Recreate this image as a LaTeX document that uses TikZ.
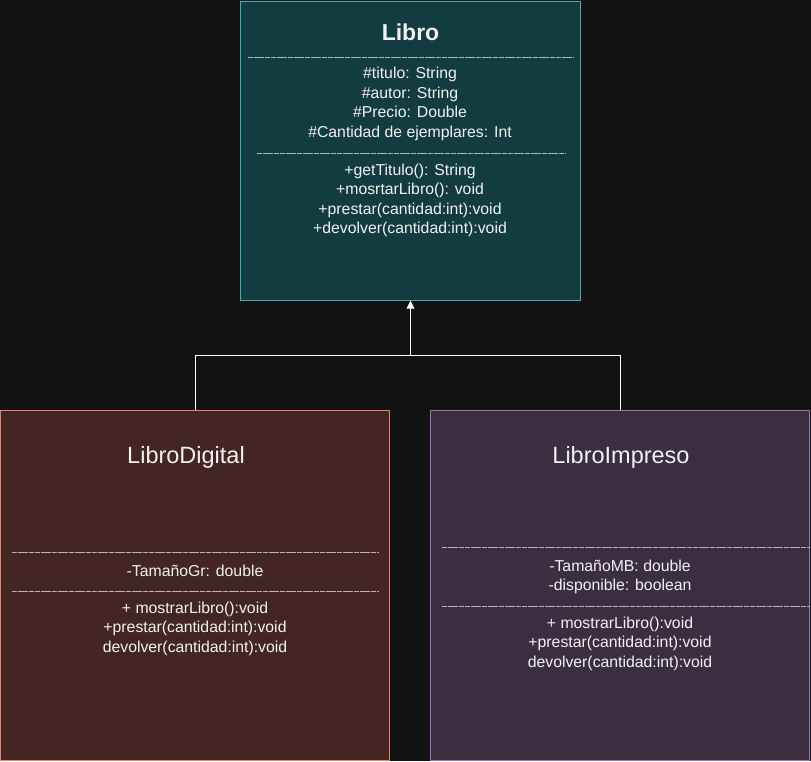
\documentclass[tikz,border=0pt]{standalone}
\usepackage{fontspec}
\setmainfont{Liberation Sans}
\usetikzlibrary{arrows.meta}
\definecolor{fondo}{HTML}{121212}
\definecolor{libroFill}{HTML}{123C3F}
\definecolor{libroLine}{HTML}{3DB1B1}
\definecolor{digFill}{HTML}{432624}
\definecolor{digLine}{HTML}{E6826F}
\definecolor{impFill}{HTML}{3A2E40}
\definecolor{impLine}{HTML}{9C75AF}
\definecolor{letra}{HTML}{F2F2F2}
\tikzset{
  clase/.style={draw,line width=1pt,inner sep=0pt},
  txt/.style={text=letra,align=center,anchor=base,inner sep=0pt,font=\fontsize{15.8}{19.5}\selectfont},
  titulo/.style={text=letra,anchor=base,inner sep=0pt,font=\fontsize{23.5}{27}\selectfont},
  sep/.style={draw=letra!75!black,line width=0.6pt,dash pattern=on 5pt off 0.7pt},
  rel/.style={draw=white,line width=1pt}
}
\begin{document}
\begin{tikzpicture}[x=1pt,y=-1pt]
  \fill[fondo] (0,0) rectangle (811,761);
  \useasboundingbox (0,0) rectangle (811,761);
  % clases
  \node[clase,draw=libroLine,fill=libroFill,minimum width=340pt,minimum height=299pt] (libro) at (410.5,150.5) {};
  \node[clase,draw=digLine,fill=digFill,minimum width=389pt,minimum height=350pt] (digital) at (195,585.5) {};
  \node[clase,draw=impLine,fill=impFill,minimum width=379pt,minimum height=350pt] (impreso) at (620,585.5) {};
  % Libro
  \node[titulo,font=\fontsize{23}{27}\selectfont\bfseries] (tLibro) at (410.5,40) {Libro};
  \draw[sep] (248,57) -- (573,57);
  \node[txt] (aLibro) at (410,137) {\#titulo: String\\ \#autor: String\\ \#Precio: Double\\ \#Cantidad de ejemplares: Int};
  \draw[sep] (257,153) -- (565,153);
  \node[txt] (mLibro) at (410,233.5) {+getTitulo(): String\\ +mosrtarLibro(): void\\ +prestar(cantidad:int):void\\ +devolver(cantidad:int):void};
  % LibroDigital
  \node[titulo] (tDigital) at (186,463.5) {LibroDigital};
  \draw[sep] (12,552) -- (379,552);
  \node[txt] (aDigital) at (195,576) {-TamañoGr: double};
  \draw[sep] (12,591) -- (379,591);
  \node[txt] (mDigital) at (195,652) {+ mostrarLibro():void\\ +prestar(cantidad:int):void\\ devolver(cantidad:int):void};
  % LibroImpreso
  \node[titulo] (tImpreso) at (621,463.5) {LibroImpreso};
  \draw[sep] (442,547) -- (810,547);
  \node[txt] (aImpreso) at (620,590.5) {-TamañoMB: double\\ -disponible: boolean};
  \draw[sep] (442,606) -- (810,606);
  \node[txt] (mImpreso) at (620,667) {+ mostrarLibro():void\\ +prestar(cantidad:int):void\\ devolver(cantidad:int):void};
  % herencia
  \coordinate (junta) at (410.5,355);
  \draw[rel] (digital.north) |- (junta);
  \draw[rel] (impreso.north) |- (junta);
  \draw[rel,-{Triangle[length=8pt,width=7.5pt]}] (junta) -- (libro.south);
\end{tikzpicture}
\end{document}
